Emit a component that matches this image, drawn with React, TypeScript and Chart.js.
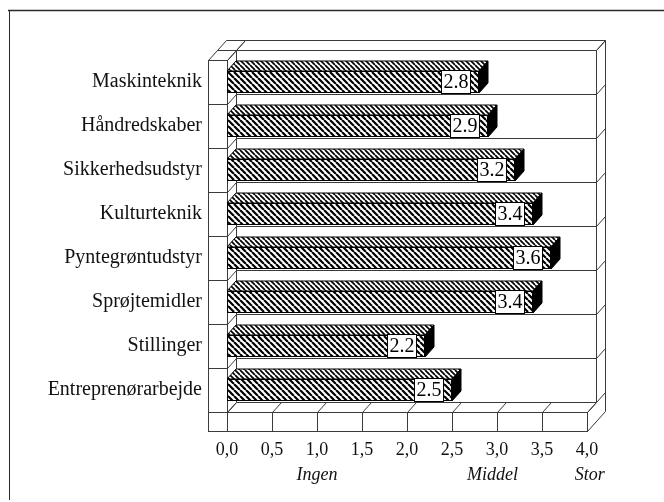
import React, { useEffect, useRef } from 'react';
import { Chart, registerables } from 'chart.js';

Chart.register(...registerables);

const categories = [
  'Maskinteknik',
  'Håndredskaber',
  'Sikkerhedsudstyr',
  'Kulturteknik',
  'Pyntegrøntudstyr',
  'Sprøjtemidler',
  'Stillinger',
  'Entreprenørarbejde',
];
const values = [2.8, 2.9, 3.2, 3.4, 3.6, 3.4, 2.2, 2.5];
const valueLabels = ['2.8', '2.9', '3.2', '3.4', '3.6', '3.4', '2.2', '2.5'];
const xTickLabels = ['0,0', '0,5', '1,0', '1,5', '2,0', '2,5', '3,0', '3,5', '4,0'];
const scaleWords = ['Ingen', 'Middel', 'Stor'];
const scaleWordValues = [1.0, 2.95, 4.03];

const DX = 9;
const DY = -10;
const WALL = 19;
const SERIF = "'Liberation Serif', 'Times New Roman', serif";

function makeHatch(size: number, lw: number) {
  const c = document.createElement('canvas');
  c.width = size;
  c.height = size;
  const g = c.getContext('2d') as CanvasRenderingContext2D;
  g.fillStyle = '#fff';
  g.fillRect(0, 0, size, size);
  g.strokeStyle = '#000';
  g.lineWidth = lw;
  g.beginPath();
  for (const k of [-size, 0, size]) {
    g.moveTo(k, 0);
    g.lineTo(k + size, size);
  }
  g.stroke();
  return g.createPattern(c, 'repeat') as CanvasPattern;
}

export default function App() {
  const ref = useRef<HTMLCanvasElement | null>(null);

  useEffect(() => {
    if (!ref.current) return;
    const frontPattern = makeHatch(6, 2.2);
    const topPattern = makeHatch(5, 1.7);

    const px = (v: number) => Math.round(v) + 0.5;
    const line = (ctx: CanvasRenderingContext2D, x1: number, y1: number, x2: number, y2: number) => {
      ctx.beginPath();
      ctx.moveTo(px(x1), px(y1));
      ctx.lineTo(px(x2), px(y2));
      ctx.stroke();
    };

    const threeD = {
      id: 'threeD',
      beforeDatasetsDraw(chart: any) {
        const ctx: CanvasRenderingContext2D = chart.ctx;
        const { left: L, right: R, top: T, bottom: B } = chart.chartArea;
        const xs = chart.scales.x;
        const ys = chart.scales.y;
        const n = categories.length;
        ctx.save();
        ctx.strokeStyle = '#3a3a3a';
        ctx.lineWidth = 1;
        // back wall top face
        ctx.fillStyle = '#fff';
        ctx.beginPath();
        ctx.moveTo(px(L + DX), px(T + DY));
        ctx.lineTo(px(R + DX), px(T + DY));
        ctx.lineTo(px(R + 2 * DX), px(T + 2 * DY));
        ctx.lineTo(px(L + 2 * DX), px(T + 2 * DY));
        ctx.closePath();
        ctx.stroke();
        // left wall top face
        ctx.beginPath();
        ctx.moveTo(px(L - WALL), px(T));
        ctx.lineTo(px(L), px(T));
        ctx.lineTo(px(L + 2 * DX), px(T + 2 * DY));
        ctx.lineTo(px(L - WALL + 2 * DX), px(T + 2 * DY));
        ctx.closePath();
        ctx.stroke();
        line(ctx, L - WALL + DX, T + DY, L + DX, T + DY);
        // left wall front face
        ctx.strokeRect(px(L - WALL), px(T), Math.round(WALL), Math.round(B + WALL - T));
        // back plane verticals
        line(ctx, L + DX, T + DY, L + DX, B + DY);
        line(ctx, R + DX, T + DY, R + DX, B + DY);
        // right side of back wall / floor
        line(ctx, R + 2 * DX, T + 2 * DY, R + 2 * DX, B + WALL + 2 * DY);
        line(ctx, R, B + WALL, R + 2 * DX, B + WALL + 2 * DY);
        line(ctx, R, B, R + DX, B + DY);
        // category boundaries
        for (let k = 0; k <= n; k++) {
          const yk = ys.getPixelForValue(k - 0.5);
          line(ctx, L - WALL, yk, L, yk);
          line(ctx, L, yk, L + DX, yk + DY);
          line(ctx, L + DX, yk + DY, R + DX, yk + DY);
          line(ctx, R + DX, yk + DY, R + 2 * DX, yk + 2 * DY);
        }
        // floor front face
        ctx.strokeRect(px(L - WALL), px(B), Math.round(R - L + WALL), Math.round(WALL));
        line(ctx, L, B, R, B);
        xs.ticks.forEach((t: any) => {
          const xt = xs.getPixelForValue(t.value);
          line(ctx, xt, B, xt, B + WALL);
          line(ctx, xt, B, xt + DX, B + DY);
        });
        ctx.restore();
      },
      afterDatasetsDraw(chart: any) {
        const ctx: CanvasRenderingContext2D = chart.ctx;
        const meta = chart.getDatasetMeta(0);
        ctx.save();
        meta.data.forEach((el: any, i: number) => {
          const { x, y, base, height } = el.getProps(['x', 'y', 'base', 'height'], true);
          const top = y - height / 2;
          const bot = y + height / 2;
          // top face
          ctx.beginPath();
          ctx.moveTo(base, top);
          ctx.lineTo(x, top);
          ctx.lineTo(x + DX, top + DY);
          ctx.lineTo(base + DX, top + DY);
          ctx.closePath();
          ctx.fillStyle = topPattern;
          ctx.fill();
          ctx.strokeStyle = '#000';
          ctx.lineWidth = 1;
          ctx.stroke();
          // side face
          ctx.beginPath();
          ctx.moveTo(x, top);
          ctx.lineTo(x + DX, top + DY);
          ctx.lineTo(x + DX, bot + DY);
          ctx.lineTo(x, bot);
          ctx.closePath();
          ctx.fillStyle = '#000';
          ctx.fill();
          ctx.stroke();
          // value label box
          const bw = 29;
          const bx = Math.round(x - 9 - bw);
          const by = Math.round(top - 1);
          const bh = Math.round(bot - top + 1);
          ctx.fillStyle = '#fff';
          ctx.fillRect(bx, by, bw, bh);
          ctx.strokeStyle = '#000';
          ctx.strokeRect(bx + 0.5, by + 0.5, bw, bh);
          ctx.fillStyle = '#000';
          ctx.font = `20px ${SERIF}`;
          ctx.textAlign = 'center';
          ctx.textBaseline = 'middle';
          ctx.fillText(valueLabels[i], bx + bw / 2 + 0.5, by + bh / 2 + 1.5);
        });
        ctx.restore();
      },
      afterDraw(chart: any) {
        const ctx: CanvasRenderingContext2D = chart.ctx;
        const xs = chart.scales.x;
        ctx.save();
        ctx.strokeStyle = '#2a2a2a';
        ctx.lineWidth = 1.5;
        ctx.beginPath();
        ctx.moveTo(8, 10.5);
        ctx.lineTo(664, 10.5);
        ctx.stroke();
        ctx.lineWidth = 1;
        ctx.beginPath();
        ctx.moveTo(9.5, 10);
        ctx.lineTo(9.5, 500);
        ctx.stroke();
        ctx.fillStyle = '#111';
        ctx.font = `italic 18px ${SERIF}`;
        ctx.textAlign = 'center';
        ctx.textBaseline = 'middle';
        scaleWords.forEach((w, i) => {
          ctx.fillText(w, xs.getPixelForValue(scaleWordValues[i]), 475);
        });
        ctx.restore();
      },
    };

    const chart = new Chart(ref.current, {
      type: 'bar',
      data: {
        labels: categories,
        datasets: [
          {
            data: values,
            backgroundColor: frontPattern as any,
            borderColor: '#000',
            borderWidth: 1,
            borderSkipped: false,
            barPercentage: 0.5,
            categoryPercentage: 1,
          },
        ],
      },
      options: {
        indexAxis: 'y',
        animation: false,
        responsive: false,
        devicePixelRatio: 1,
        layout: { padding: { left: 0, right: 77, top: 60, bottom: 0 } },
        plugins: { legend: { display: false }, tooltip: { enabled: false } },
        scales: {
          x: {
            min: 0,
            max: 4,
            grid: { display: false, drawTicks: false },
            border: { display: false },
            ticks: {
              stepSize: 0.5,
              autoSkip: false,
              maxRotation: 0,
              padding: 27,
              color: '#111',
              font: { family: SERIF, size: 18 },
              callback: (_v: any, i: number) => xTickLabels[i],
            },
            afterFit: (s: any) => {
              s.height = 90;
            },
          },
          y: {
            grid: { display: false, drawTicks: false },
            border: { display: false },
            ticks: {
              padding: 25,
              color: '#111',
              font: { family: SERIF, size: 20 },
            },
            afterFit: (s: any) => {
              s.width = 227;
            },
          },
        },
      },
      plugins: [threeD],
    });
    return () => chart.destroy();
  }, []);

  return (
    <div style={{ position: 'absolute', left: 0, top: 0, width: 664, height: 502, background: '#fff' }}>
      <canvas ref={ref} width={664} height={502} style={{ display: 'block' }} />
    </div>
  );
}
